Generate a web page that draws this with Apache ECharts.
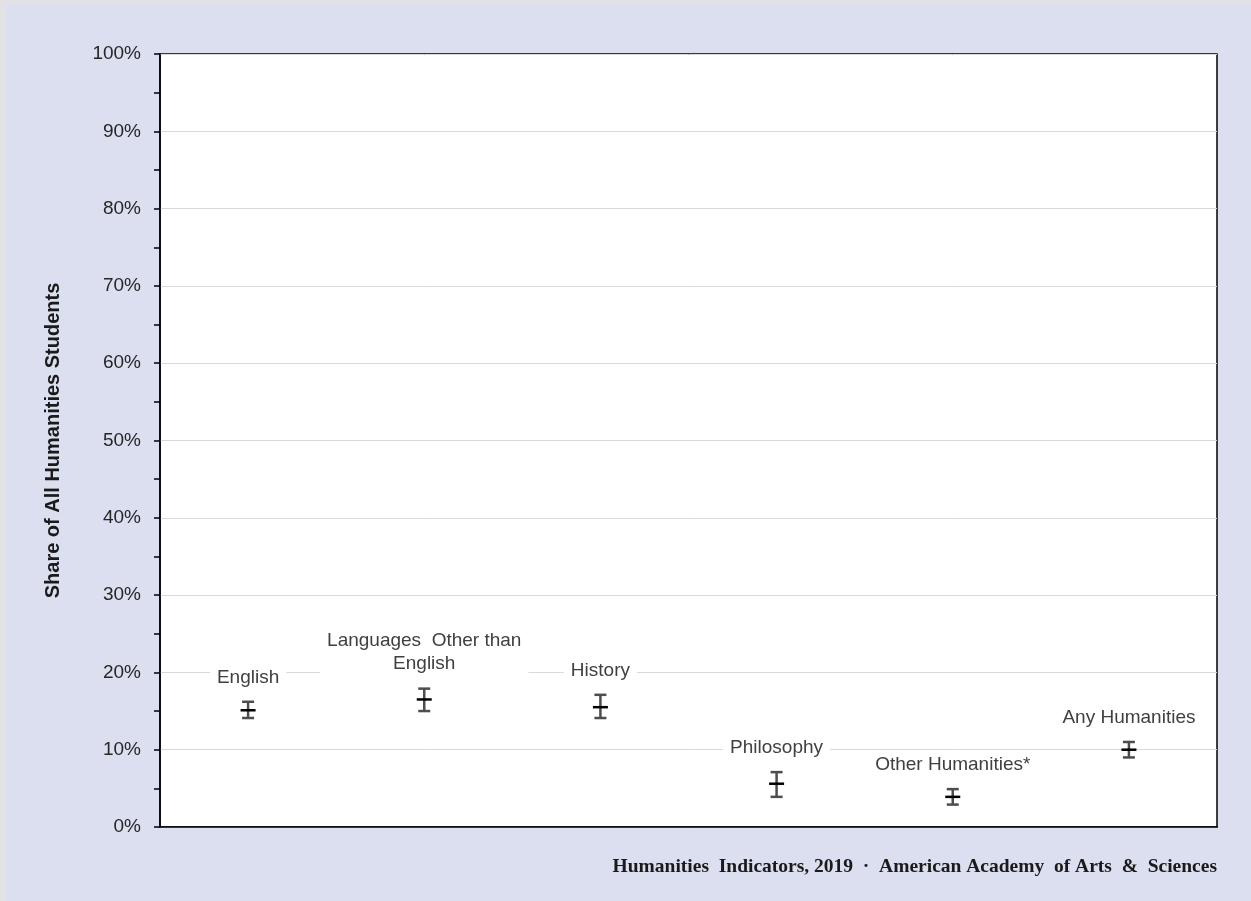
<!DOCTYPE html>
<html>
<head>
<meta charset="utf-8">
<script src="https://cdn.jsdelivr.net/npm/echarts@6/dist/echarts.min.js"></script>
<style>
html,body{margin:0;padding:0;width:1251px;height:901px;background:#e2e2e4;overflow:hidden;}
#chart{position:absolute;left:6px;top:4px;width:1245px;height:897px;background:#dcdff0;}
</style>
</head>
<body>
<div id="chart"></div>
<script>
const categories = ['English', 'Languages  Other than\nEnglish', 'History', 'Philosophy', 'Other Humanities*', 'Any Humanities'];
const means = [15.1, 16.5, 15.5, 5.6, 3.9, 10.0];
const lows  = [14.1, 15.0, 14.1, 3.9, 2.9, 9.0];
const highs = [16.2, 17.9, 17.1, 7.1, 4.9, 11.0];
const yTicks = [0, 10, 20, 30, 40, 50, 60, 70, 80, 90, 100];
const footer = 'Humanities  Indicators, 2019  ·  American Academy  of Arts  &  Sciences';

const chart = echarts.init(document.getElementById('chart'), null, {renderer: 'canvas'});
const seriesData = categories.map((c, i) => [i, lows[i], means[i], highs[i]]);

chart.setOption({
  animation: false,
  backgroundColor: '#dcdff0',
  grid: {left: 154, top: 50, width: 1057, height: 773, show: true, backgroundColor: '#ffffff', borderColor: '#000000', borderWidth: 1.5},
  xAxis: {
    type: 'category', data: categories, boundaryGap: true,
    axisLine: {lineStyle: {color: '#000000', width: 1.5}},
    axisTick: {show: false}, axisLabel: {show: false}, splitLine: {show: false}
  },
  yAxis: {
    type: 'value', min: yTicks[0], max: yTicks[yTicks.length - 1], interval: 10,
    name: 'Share of All Humanities Students', nameLocation: 'middle', nameGap: 97,
    nameTextStyle: {fontFamily: 'Liberation Sans, Arial', fontSize: 20, fontWeight: 'bold', color: '#1a1a1a'},
    axisLine: {show: true, lineStyle: {color: '#000000', width: 1.5}},
    axisTick: {show: true, inside: false, length: 6, lineStyle: {color: '#000000', width: 1.5}},
    minorTick: {show: true, splitNumber: 2, length: 6, lineStyle: {color: '#000000', width: 1.5}},
    axisLabel: {formatter: '{value}%', fontFamily: 'Liberation Sans, Arial', fontSize: 19, color: '#262626', margin: 19},
    splitLine: {show: true, lineStyle: {color: '#d9d9d9', width: 1}}
  },
  graphic: [{
    type: 'text', right: 34, top: 853,
    style: {text: footer, font: 'bold 19.5px "Liberation Serif", serif', fill: '#1a1a1a'}
  }],
  series: [{
    type: 'custom',
    data: seriesData,
    encode: {x: 0, y: [1, 2, 3]},
    renderItem: function (params, api) {
      const i = api.value(0);
      const lo = api.coord([i, api.value(1)]);
      const mid = api.coord([i, api.value(2)]);
      const hi = api.coord([i, api.value(3)]);
      const x = lo[0];
      const cap = 6, mw = 7.5;
      const grey = {stroke: '#4d4d4d', lineWidth: 2.5};
      return {
        type: 'group',
        children: [
          {type: 'line', shape: {x1: x, y1: lo[1], x2: x, y2: hi[1]}, style: grey},
          {type: 'line', shape: {x1: x - cap, y1: lo[1], x2: x + cap, y2: lo[1]}, style: grey},
          {type: 'line', shape: {x1: x - cap, y1: hi[1], x2: x + cap, y2: hi[1]}, style: grey},
          {type: 'line', shape: {x1: x - mw, y1: mid[1], x2: x + mw, y2: mid[1]}, style: {stroke: '#000000', lineWidth: 2.5}},
          {type: 'text', x: x, y: hi[1] - 13, z2: 10,
            style: {text: categories[i], align: 'center', verticalAlign: 'bottom', lineHeight: 23,
              font: '19px "Liberation Sans", Arial', fill: '#404040', backgroundColor: '#ffffff', padding: [0, 7]}}
        ]
      };
    }
  }]
});
</script>
</body>
</html>
